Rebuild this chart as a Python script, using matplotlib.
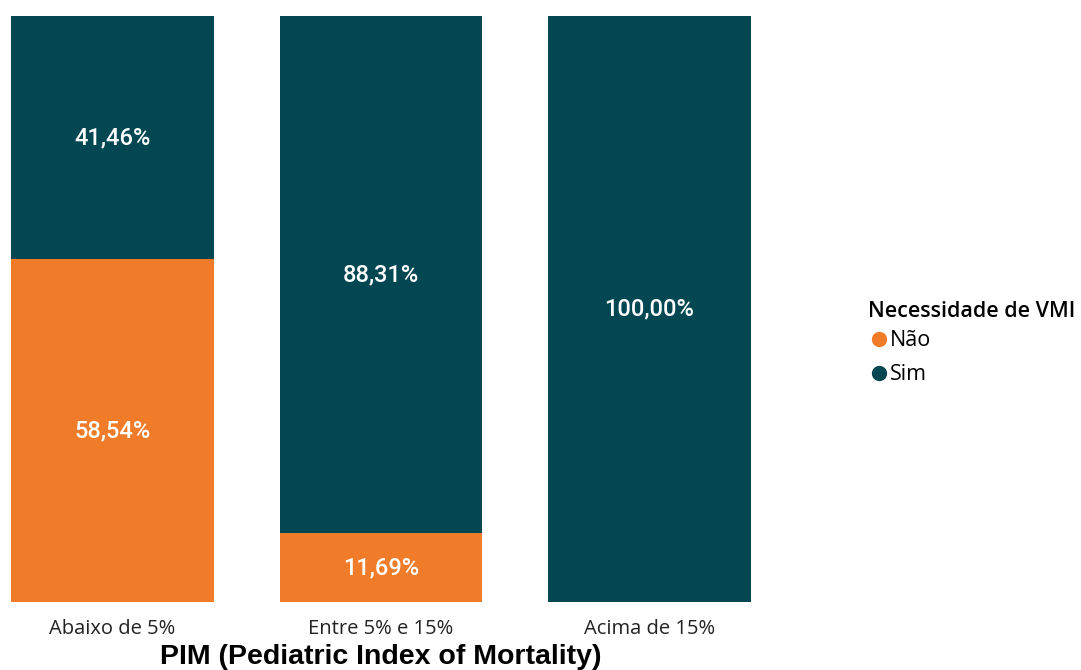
import matplotlib
matplotlib.use("Agg")
import matplotlib.pyplot as plt
from matplotlib.lines import Line2D

categories = ["Abaixo de 5%", "Entre 5% e 15%", "Acima de 15%"]
nao = [58.54, 11.69, 0.0]
sim = [41.46, 88.31, 100.00]
series_names = ["Não", "Sim"]
legend_title = "Necessidade de VMI"
xlabel = "PIM (Pediatric Index of Mortality)"

c_nao = "#F07B28"
c_sim = "#024752"

fig = plt.figure(figsize=(10.81, 6.70), dpi=100)
ax = fig.add_axes([11/1081, 1-602/670, 740/1081, 586/670])

x = list(range(len(categories)))
w = 0.756
ax.bar(x, nao, width=w, color=c_nao, linewidth=0)
ax.bar(x, sim, width=w, bottom=nao, color=c_sim, linewidth=0)

def fmt(v):
    return f"{v:.2f}%".replace(".", ",")

for i in x:
    if nao[i] > 0:
        ax.text(i, nao[i]/2, fmt(nao[i]), ha="center", va="center", color="white",
                fontsize=17, fontfamily="Roboto", fontweight="medium")
    if sim[i] > 0:
        ax.text(i, nao[i] + sim[i]/2, fmt(sim[i]), ha="center", va="center", color="white",
                fontsize=17, fontfamily="Roboto", fontweight="medium")

ax.set_xlim(-w/2, 2 + w/2)
ax.set_ylim(0, 100)
ax.set_xticks(x)
ax.set_xticklabels(categories, fontsize=14.5, fontfamily="Open Sans", color="#222222")
ax.tick_params(axis="x", length=0, pad=12)
ax.set_yticks([])
for s in ax.spines.values():
    s.set_visible(False)
ax.set_xlabel(xlabel, fontsize=20.5, fontfamily="Liberation Sans", fontweight="bold", labelpad=4)

handles = [Line2D([], [], marker="o", linestyle="", color=c, markersize=10) for c in (c_nao, c_sim)]
leg = fig.legend(handles, series_names, loc="upper left", bbox_to_anchor=(868/1081, 1-301/670),
                 frameon=False, title=legend_title, handletextpad=0.0, handlelength=1.0,
                 labelspacing=0.6, borderaxespad=0, borderpad=0,
                 prop={"family": "Open Sans", "size": 15.5},
                 title_fontproperties={"family": "Open Sans", "size": 15.5, "weight": "semibold"})
leg._legend_box.align = "left"
leg._legend_box.sep = 6

fig.savefig("out.png", dpi=100)
